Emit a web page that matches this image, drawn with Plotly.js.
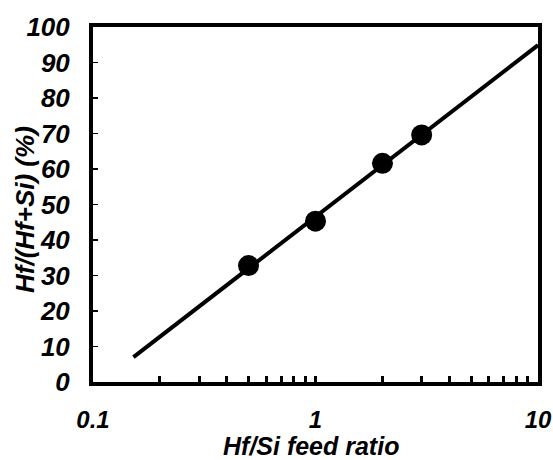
<!DOCTYPE html>
<html>
<head>
<meta charset="utf-8">
<script src="https://cdn.plot.ly/plotly-3.0.1.min.js"></script>
<style>html,body{margin:0;padding:0;background:#fff}#chart{width:553px;height:460px}</style>
</head>
<body>
<div id="chart"></div>
<script>
// Data
const feedRatio = [0.5, 1, 2, 3];
const hfFraction = [32.8, 45.3, 61.6, 69.6];
const fitX = [0.152, 10];
const fitY = [7.0, 94.9];
const xTickVals = [0.1,0.2,0.3,0.4,0.5,0.6,0.7,0.8,0.9,1,2,3,4,5,6,7,8,9,10];
const xTickText = ['0.1','','','','','','','','','1','','','','','','','','','10'];
const yTickVals = [0,10,20,30,40,50,60,70,80,90,100];
const xTitle = 'Hf/Si feed ratio';
const yTitle = 'Hf/(Hf+Si) (%)';

const fontFam = 'Arial, "Liberation Sans", sans-serif';
const ytf = {family: fontFam, size: 26, color: '#000', weight: 'bold', style: 'italic'};
const xtf = {family: fontFam, size: 24, color: '#000', weight: 'bold', style: 'italic'};
const xTitleFont = {family: fontFam, size: 25, color: '#000', weight: 'bold', style: 'italic'};
const yTitleFont = {family: fontFam, size: 26, color: '#000', weight: 'bold', style: 'italic'};

const traces = [
  {x: fitX, y: fitY, mode: 'lines', line: {color: '#000', width: 4}, hoverinfo: 'skip', showlegend: false},
  {x: feedRatio, y: hfFraction, mode: 'markers', marker: {color: '#000', size: 21}, showlegend: false}
];

const layout = {
  width: 553, height: 460,
  margin: {l: 93, r: 15, t: 27, b: 78},
  paper_bgcolor: '#fff', plot_bgcolor: '#fff',
  showlegend: false,
  xaxis: {
    type: 'log', range: [-1, 1],
    tickmode: 'array', tickvals: xTickVals, ticktext: xTickText,
    ticks: 'inside', ticklen: 6, tickwidth: 3, tickcolor: '#000',
    ticklabelstandoff: 13,
    showgrid: false, zeroline: false,
    showline: true, linecolor: '#000', linewidth: 4, mirror: true,
    tickfont: xtf,
    automargin: false
  },
  yaxis: {
    range: [0, 100],
    tickmode: 'array', tickvals: yTickVals,
    ticks: 'inside', ticklen: 5, tickwidth: 1.5, tickcolor: '#000',
    ticklabelstandoff: 14,
    showgrid: false, zeroline: false,
    showline: true, linecolor: '#000', linewidth: 4, mirror: true,
    tickfont: ytf,
    automargin: false
  },
  annotations: [
    {text: xTitle, xref: 'paper', yref: 'paper', x: 0.49, y: -0.18, xanchor: 'center', yanchor: 'middle', showarrow: false, font: xTitleFont},
    {text: yTitle, xref: 'paper', yref: 'paper', x: -0.153, y: 0.487, xanchor: 'center', yanchor: 'middle', textangle: -90, showarrow: false, font: yTitleFont}
  ]
};

Plotly.newPlot('chart', traces, layout, {displayModeBar: false, staticPlot: true});
</script>
</body>
</html>
